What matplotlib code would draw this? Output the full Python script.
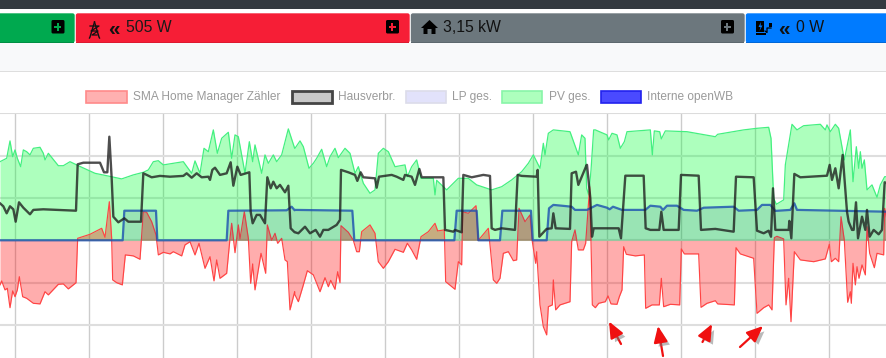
import numpy as np
import matplotlib
matplotlib.use("Agg")
import matplotlib.pyplot as plt
from matplotlib.patches import Rectangle, FancyBboxPatch, Polygon
import matplotlib.patheffects as pe

plt.rcParams['font.family'] = ['Liberation Sans', 'DejaVu Sans']

# Time ticks: three readings, each with its own start offset; values are kW
OFFSETS = [0, 885, 1761]
TICKS_PER_GRID = 222.15
FIRST_GRID = 44

pv_a = [(0,3.93),(20,4.1),(30,4.97),(38,4.18),(45,4.52),(52,4.1),(62,3.68),(70,4.52),(80,4.43),(90,4.27),(100,4.6),(120,4.65),(130,4.35),(135,4.02),(145,4.35),(175,3.73),(190,3.73),(210,3.93),(235,3.73),(285,3.35),(320,3.23),(365,3.07),(400,3.27),(430,3.4),(445,3.52),(460,3.93),(475,3.98),(490,3.77),(520,3.85),(550,3.93),(575,3.35),(585,3.97),(600,3.35),(612,4.6),(625,4.43),(640,5.52),(652,4.35),(665,5.1),(685,5.4),(695,4.1),(705,5.27),(715,5.18),(735,3.35),(748,4.93),(758,3.93),(765,4.77),(785,3.35),(795,4.27),(805,3.85),(820,4.27),(830,3.93),(845,4.27),(865,5.57),(884,4.6)]
pv_b = [(0,4.6),(15,4.97),(25,4.68),(42,3.6),(55,3.85),(65,4.1),(80,4.55),(95,3.68),(105,4.18),(120,4.6),(130,4.13),(150,4.6),(165,4.35),(180,3.35),(190,3.68),(205,2.85),(225,2.35),(240,2.52),(250,4.35),(265,4.6),(280,4.43),(300,3.68),(330,3.77),(337,3.18),(350,3.68),(365,4.02),(378,3.1),(415,3.1),(420,2.27),(425,3.0),(455,2.52),(490,3.1),(520,3.1),(545,2.77),(590,2.52),(620,2.68),(650,3.02),(680,3.43),(700,3.85),(715,4.27),(735,3.6),(745,4.85),(750,4.27),(760,5.35),(775,5.52),(825,5.43),(850,4.27),(860,5.27),(870,5.1),(875,2.6)]
pv_c = [(5,2.27),(12,3.5),(20,5.52),(25,5.52),(60,5.27),(65,5.02),(75,5.35),(90,5.27),(100,4.6),(112,4.93),(120,5.43),(190,5.52),(196,4.27),(202,5.47),(218,5.43),(223,5.07),(235,5.47),(300,5.43),(385,5.18),(392,5.3),(470,5.52),(510,5.6),(545,5.65),(552,5.1),(560,2.1),(568,1.8),(590,2.02),(595,3.77),(605,4.77),(615,5.8),(630,5.52),(650,5.73),(700,5.8),(715,5.52),(720,5.77),(730,5.43),(745,5.8),(755,5.6),(772,4.02),(790,5.52),(798,2.93),(808,4.68),(815,3.6),(820,4.43),(825,3.6),(832,4.02),(840,2.52),(855,2.77),(870,2.15),(880,2.77),(893,3.18),(900,3.18)]

grid_a = [(0,-2.23),(5,-2.03),(15,-2.48),(22,-2.4),(30,-3.37),(38,-2.53),(45,-2.82),(52,-2.48),(58,-1.82),(68,-2.82),(80,-2.9),(100,-3.15),(120,-3.18),(135,-2.57),(145,-2.73),(175,-2.2),(190,-2.18),(205,-2.43),(228,-2.12),(233,0.1),(270,0.3),(305,0.6),(315,0.15),(328,1.93),(335,0.1),(338,-1.98),(350,-2.12),(367,-2.23),(376,-0.73),(400,-0.78),(420,-0.95),(430,1.43),(440,1.4),(455,0.93),(468,0.27),(475,-0.73),(490,-0.6),(510,-0.68),(520,-0.57),(545,-0.78),(555,-0.23),(570,-0.07),(585,-0.73),(597,-0.15),(615,-1.4),(630,-0.82),(642,-2.03),(650,-0.98),(660,-1.9),(680,-1.65),(690,0.1),(695,0.85),(705,-0.62),(715,0.77),(720,0.07),(733,1.43),(745,0.1),(752,-2.15),(758,-1.18),(765,-2.48),(783,-0.65),(797,-1.65),(802,0.77),(815,0.0),(825,0.35),(833,-0.15),(845,0.1),(855,-0.98),(862,-1.07),(870,-3.48),(884,-2.57)]
grid_b = [(0,-2.73),(10,-3.07),(25,-2.23),(37,-1.52),(55,-1.73),(75,-2.57),(90,-1.87),(100,-2.32),(107,-2.0),(120,-2.45),(128,-1.57),(135,-2.12),(138,0.73),(160,0.4),(175,0.0),(185,-0.57),(193,-0.57),(200,0.43),(225,0.77),(240,0.35),(250,-1.07),(265,-1.4),(280,-1.07),(300,-0.45),(325,-0.6),(337,-0.15),(350,-0.48),(365,-0.95),(378,0.18),(400,0.43),(420,0.85),(428,0.47),(448,0.52),(452,-2.07),(480,-2.45),(490,-1.07),(500,-1.23),(503,1.43),(520,1.35),(543,1.73),(550,0.0),(580,0.6),(587,-0.57),(595,-1.98),(605,-2.15),(615,-1.9),(625,-0.65),(640,-0.57),(655,-1.02),(665,-0.98),(672,1.6),(690,0.93),(705,1.27),(712,-0.07),(722,-1.15),(725,-0.57),(735,-3.23),(745,-4.32),(755,-4.73),(760,-3.32),(772,-3.23),(775,-1.98),(782,-3.48),(795,-3.23),(825,-3.07),(830,-0.07),(840,0.52),(850,-0.48),(865,-0.48),(872,-0.15)]
grid_c = [(1,1.0),(8,2.68),(12,-0.07),(16,-3.23),(25,-3.37),(35,-3.15),(55,-3.07),(63,-2.78),(72,-3.18),(90,-3.2),(97,-2.82),(105,-2.48),(110,-0.32),(118,-0.7),(145,-0.78),(172,-0.73),(176,-3.4),(195,-3.23),(217,-3.23),(223,-1.9),(230,-3.32),(250,-3.2),(278,-3.23),(283,-0.43),(292,-0.68),(335,-0.68),(342,-3.35),(360,-3.15),(385,-3.02),(392,-3.18),(442,-3.23),(447,-0.37),(460,-0.68),(500,-0.9),(510,-3.65),(530,-3.37),(545,-3.23),(555,-3.48),(562,0.13),(570,0.2),(590,0.07),(597,-3.23),(605,-1.9),(612,-4.07),(622,-0.57),(640,-0.98),(680,-1.07),(715,-0.93),(727,-0.2),(733,-1.07),(745,-0.9),(755,-1.07),(762,1.18),(772,0.0),(782,-3.1),(790,-2.57),(793,-3.15),(798,-1.15),(805,-2.23),(810,-1.32),(816,-1.9),(825,-1.23),(835,-1.73),(840,0.68),(848,-0.65),(862,-1.37),(870,-0.65),(890,-0.73),(893,1.6),(900,1.02)]

house_a = [(0,1.85),(10,1.7),(20,1.35),(30,1.7),(40,1.55),(47,0.93),(57,1.9),(70,1.63),(90,1.3),(100,1.52),(130,1.55),(170,1.52),(228,1.48),(233,3.8),(250,3.88),(300,3.88),(312,3.4),(322,3.4),(328,5.18),(335,3.1),(340,1.18),(355,0.9),(373,1.1),(385,0.93),(423,0.93),(430,3.35),(455,3.15),(480,3.22),(510,3.18),(550,3.22),(560,3.35),(575,3.13),(590,3.35),(605,3.15),(625,3.18),(630,3.02),(637,3.52),(645,3.63),(660,3.27),(680,3.35),(692,3.9),(700,2.73),(712,3.68),(722,3.27),(748,3.4),(752,1.43),(758,0.85),(770,1.27),(780,1.27),(795,0.85),(802,3.15),(812,2.6),(820,2.93),(830,2.6),(840,2.77),(855,2.4),(865,2.73),(872,0.6),(884,0.4)]
house_b = [(0,0.4),(10,0.35),(30,0.68),(45,0.35),(62,0.52),(75,0.18),(85,0.52),(100,0.52),(125,0.77),(135,1.02),(138,3.52),(160,3.4),(180,3.27),(187,2.97),(197,3.4),(205,3.15),(240,3.1),(245,2.63),(252,3.18),(290,3.27),(305,3.18),(325,3.02),(330,3.27),(350,3.18),(360,2.77),(373,3.57),(380,3.15),(445,3.15),(450,0.52),(475,0.43),(480,0.52),(500,0.4),(505,3.27),(530,3.15),(565,3.27),(585,3.22),(590,0.6),(600,0.52),(620,0.6),(660,0.52),(668,3.27),(680,3.22),(725,3.18),(728,3.52),(733,0.18),(755,0.57),(770,0.6),(775,1.35),(782,0.6),(825,0.57),(830,3.35),(843,3.43),(850,2.77),(875,3.77)]
house_c = [(0,3.77),(10,2.1),(15,0.18),(20,0.6),(45,0.6),(95,0.6),(102,0.1),(115,3.23),(170,3.23),(176,0.6),(190,0.52),(217,0.52),(223,1.43),(230,0.52),(275,0.52),(282,3.27),(335,3.23),(342,0.52),(385,0.57),(440,0.43),(447,3.18),(500,3.15),(510,0.48),(530,0.35),(545,0.48),(552,0.18),(558,2.6),(565,0.52),(605,0.52),(607,0.97),(613,0.1),(622,3.32),(640,3.15),(720,3.23),(728,3.77),(735,3.02),(745,3.6),(755,2.6),(767,4.27),(780,1.43),(785,0.93),(795,0.52),(800,0.52),(807,1.9),(813,0.1),(825,1.18),(835,0.52),(840,1.52),(848,0.18),(860,0.52),(875,0.3),(885,0.52),(893,2.9),(900,2.85)]

wb_a = [(0,0),(368,0),(373,1.48),(468,1.48),(472,0),(680,0),(685,1.48),(860,1.5),(875,1.68),(884,1.5)]
wb_b = [(0,1.52),(172,1.48),(178,0),(478,0),(485,1.48),(545,1.48),(550,0),(615,0),(622,1.48),(708,1.48),(713,0),(755,0),(762,1.6),(775,1.77),(800,1.73),(830,1.68),(840,1.52),(875,1.52)]
wb_c = [(0,1.52),(30,1.77),(60,1.63),(68,1.55),(78,1.68),(105,1.52),(175,1.52),(190,1.73),(220,1.68),(228,1.52),(240,1.73),(270,1.73),(290,1.52),(330,1.48),(350,1.63),(440,1.68),(455,1.48),(510,1.52),(525,1.77),(550,1.77),(565,1.47),(610,1.52),(622,1.85),(630,1.52),(900,1.43)]

legend_labels = ["SMA Home Manager Zähler", "Hausverbr.", "LP ges.", "PV ges.", "Interne openWB"]
status_texts = ["505 W", "3,15 kW", "0 W"]


def series(*segments):
    t, v = [], []
    for off, seg in zip(OFFSETS, segments):
        for a, b in seg:
            t.append(a + off)
            v.append(b)
    return np.array(t, float), np.array(v, float)


W, H = 887, 358
fig = plt.figure(figsize=(W / 100, H / 100), dpi=100, facecolor='white')

# ---- chart ----
ax = fig.add_axes([0, 0, 1, 245 / H])
ax.set_xlim(0, 3 * W)
px_kw = 0.05
ax.set_ylim(-117.7 * px_kw, 127.3 * px_kw)
for s in ax.spines.values():
    s.set_visible(False)
ax.tick_params(left=False, bottom=False, labelleft=False, labelbottom=False)
ax.set_xticks(FIRST_GRID + TICKS_PER_GRID * np.arange(12))
ax.set_yticks(2.115 * np.arange(-2, 4))
ax.grid(axis='x', color='#cccccc', lw=1.0)
ax.grid(axis='y', color='#dedede', lw=1.5)
ax.set_axisbelow(True)

t_pv, v_pv = series(pv_a, pv_b, pv_c)
t_gr, v_gr = series(grid_a, grid_b, grid_c)
t_ho, v_ho = series(house_a, house_b, house_c)
t_wb, v_wb = series(wb_a, wb_b, wb_c)

ax.fill_between(t_pv, v_pv, 0, color=(0, 1, 0.2), alpha=0.32, lw=0, zorder=2)
ax.plot(t_pv, v_pv, color='#44f080', lw=0.9, zorder=3, solid_joinstyle='round')
ax.fill_between(t_gr, v_gr, 0, color=(1, 0, 0), alpha=0.32, lw=0, zorder=4)
ax.plot(t_gr, v_gr, color='#ff4444', lw=0.85, zorder=5, solid_joinstyle='round')
ax.fill_between(t_wb, v_wb, 0, color=(0.05, 0.15, 0.45), alpha=0.12, lw=0, zorder=6)
ax.plot(t_wb, v_wb, color='#1a4fb0', lw=1.6, alpha=0.8, zorder=7, solid_joinstyle='round')
ax.plot(t_ho, v_ho, color='#1c1c1c', lw=1.7, alpha=0.78, zorder=8, solid_joinstyle='round')

# ---- page chrome, in pixels ----
ov = fig.add_axes([0, 0, 1, 1], zorder=10)
ov.set_xlim(0, W)
ov.set_ylim(H, 0)
ov.axis('off')
ov.patch.set_alpha(0)


def rect(x0, y0, x1, y1, fc, **kw):
    ov.add_patch(Rectangle((x0, y0), x1 - x0, y1 - y0, fc=fc, lw=0, **kw))


rect(0, 0, W, 9, '#343a40')
rect(0, 43, W, 71, '#f8f9fa')
rect(0, 71, W, 72, '#dedede')
rect(0, 113, W, 114, '#dcdcdc')

buttons = [(-5, 75, '#00a94f', '#008f43'), (75.5, 410, '#f61e36', '#dd1a30'),
           (410.5, 745, '#6c777d', '#5d686e'), (745.5, 892, '#007bff', '#0068d8')]
for x0, x1, c, dark in buttons:
    ov.add_patch(FancyBboxPatch((x0 + 1, 14), x1 - x0 - 2, 28, boxstyle='round,pad=0,rounding_size=1.5',
                                fc=c, ec=c, lw=1))
    rect(x0 + 1, 41.5, x1 - 1, 43, dark)

for x0, col in [(50.5, '#00a94f'), (385, '#f61e36'), (720, '#6c777d')]:
    ov.add_patch(FancyBboxPatch((x0 + 1, 20), 13, 13.5, boxstyle='round,pad=0,rounding_size=1.5', fc='black', lw=0))
    rect(x0 + 4, 25.8, x0 + 11, 27.8, col)
    rect(x0 + 6.5, 23, x0 + 8.5, 30.5, col)

# pylon icon
ov.plot([94.5, 90, 89.5], [22, 37, 38], color='#111', lw=1.0)
ov.plot([94.5, 99, 99.5], [22, 37, 38], color='#111', lw=1.0)
ov.plot([90, 99, 91, 98, 92, 97], [26, 26, 31, 31, 35, 35], color='#111', lw=0.9)
# house icon
ov.add_patch(Polygon([(421, 28), (429.5, 20), (438, 28), (435.5, 28), (435.5, 34), (431.5, 34), (431.5, 29),
                      (427.5, 29), (427.5, 34), (423.5, 34), (423.5, 28)], fc='black', lw=0))
# charging-point icon
rect(756.5, 21, 764.5, 32, 'black')
ov.add_patch(Polygon([(761, 22), (758.5, 27), (760.5, 27), (759.5, 31), (762.5, 25.5), (760.5, 25.5)], fc='#007bff', lw=0))
rect(756, 33, 766, 34.5, 'black')
ov.plot([765, 767, 767, 771], [31, 32.5, 28, 28], color='black', lw=0.9)
rect(769, 23, 772, 27, 'black')

for x in (108, 778.5):
    ov.text(x, 29.5, '«', fontsize=15, fontweight='bold', va='center', ha='left', color='#111')
ov.text(126.5, 28, status_texts[0], fontsize=11.3, va='center', color='#1a1a1a')
ov.text(443, 28, status_texts[1], fontsize=11.3, va='center', color='#111')
ov.text(796, 28, status_texts[2], fontsize=11.3, va='center', color='#111')

legend = [(86.5, '#ffb0b0', '#ff8a8a', 133, 1.2), (292, '#c8c8c8', '#444444', 338, 2),
          (406, '#e2e2fb', '#dcdcea', 452.5, 1.2), (502, '#adffbd', '#88f5a8', 549, 1.2),
          (600.7, '#4a4aff', '#2222ee', 647.5, 1.2)]
for (x0, fc, ec, tx, lw), lab in zip(legend, legend_labels):
    ov.add_patch(Rectangle((x0, 90.5), 40.5, 12.5, fc=fc, ec=ec, lw=lw))
    ov.text(tx, 97, lab, fontsize=8.6, color='#9a9a9a', va='center', ha='left')

# hand-drawn red arrows
arrows = [((621, 344), (609, 321.5)), ((663, 356), (658, 326)), ((702.5, 342), (712, 324)), ((740, 347), (763, 326))]
for tail, tip in arrows:
    ov.annotate('', xy=tip, xytext=tail,
                arrowprops=dict(arrowstyle='-|>,head_width=0.32,head_length=0.75', color='#f01010', lw=1.6,
                                shrinkA=0, shrinkB=0, mutation_scale=13,
                                path_effects=[pe.SimplePatchShadow(offset=(2.5, -2.5), shadow_rgbFace='#777777', alpha=0.5),
                                              pe.Normal()]))

fig.savefig('out.png', dpi=100)
